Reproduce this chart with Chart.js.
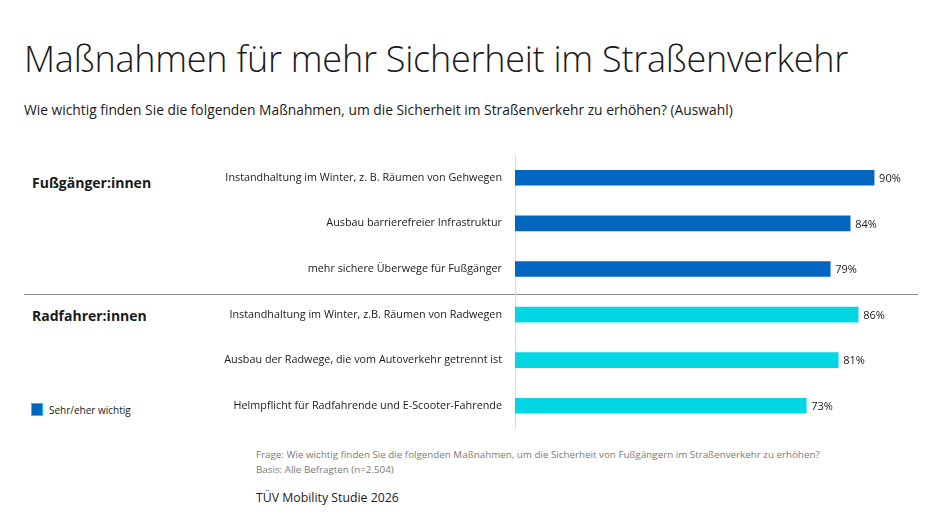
<!DOCTYPE html>
<html lang="de">
<head>
<meta charset="utf-8">
<script src="https://cdn.jsdelivr.net/npm/chart.js@4/dist/chart.umd.min.js"></script>
<style>
    body { margin: 0; background: #fff; font-family: "Open Sans", sans-serif; color: #1a1a1a; }
    #page { position: relative; width: 945px; height: 532px; overflow: hidden; }
    .txt { position: absolute; white-space: nowrap; }
    #title { left: 24px; top: 34px; font-size: 36px; font-weight: 300; letter-spacing: -0.25px; }
    #subtitle { left: 24px; top: 100px; font-size: 13.8px; }
    .group { left: 32px; font-size: 14px; font-weight: 700; }
    #sep { position: absolute; left: 24px; top: 294px; width: 894px; height: 1px; background: #8c8c8c; }
    #legend { left: 31px; top: 403px; font-size: 10px; }
    #legend span.box { display: inline-block; width: 10px; height: 11px; background: #0066bf; border: 1px solid #00d7e3; vertical-align: -2px; margin-right: 6px; }
    .foot { left: 256px; font-size: 9.8px; color: #7a7a7a; }
    #studie { left: 256px; top: 489px; font-size: 12.3px; }
    #wrap { position: absolute; left: 0; top: 140px; width: 945px; height: 300px; }
</style>
</head>
<body>
<div id="page">
    <div class="txt" id="title">Maßnahmen für mehr Sicherheit im Straßenverkehr</div>
    <div class="txt" id="subtitle">Wie wichtig finden Sie die folgenden Maßnahmen, um die Sicherheit im Straßenverkehr zu erhöhen? (Auswahl)</div>
    <div class="txt group" style="top: 173px;">Fußgänger:innen</div>
    <div class="txt group" style="top: 306px;">Radfahrer:innen</div>
    <div id="sep"></div>
    <div class="txt" id="legend"><span class="box"></span>Sehr/eher wichtig</div>
    <div class="txt foot" style="top: 448px;">Frage: Wie wichtig finden Sie die folgenden Maßnahmen, um die Sicherheit von Fußgängern im Straßenverkehr zu erhöhen?</div>
    <div class="txt foot" style="top: 463px;">Basis: Alle Befragten (n=2.504)</div>
    <div class="txt" id="studie">TÜV Mobility Studie 2026</div>
    <div id="wrap"><canvas id="myBarChart"></canvas></div>
</div>
<script>
// Daten
const categories = [
    "Instandhaltung im Winter, z. B. Räumen von Gehwegen",
    "Ausbau barrierefreier Infrastruktur",
    "mehr sichere Überwege für Fußgänger",
    "Instandhaltung im Winter, z.B. Räumen von Radwegen",
    "Ausbau der Radwege, die vom Autoverkehr getrennt ist",
    "Helmpflicht für Radfahrende und E-Scooter-Fahrende",
];
const values = [90, 84, 79, 86, 81, 73];
const groups = ["fuss", "fuss", "fuss", "rad", "rad", "rad"];
const groupColors = { fuss: "#0066bf", rad: "#00d7e3" };

// Prozentwerte rechts neben den Balken
const valueLabels = {
    id: "valueLabels",
    afterDatasetsDraw(chart) {
        const ctx = chart.ctx;
        ctx.save();
        ctx.font = "11px 'Open Sans', sans-serif";
        ctx.fillStyle = "#1a1a1a";
        ctx.textBaseline = "middle";
        chart.getDatasetMeta(0).data.forEach((bar, i) => {
            ctx.fillText(values[i] + "%", bar.x + 5, bar.y + 1);
        });
        ctx.restore();
    },
};

var ctx = document.getElementById("myBarChart").getContext("2d");
var myBarChart = new Chart(ctx, {
    type: "bar",
    data: {
        labels: categories,
        datasets: [
            {
                label: "Sehr/eher wichtig",
                data: values,
                backgroundColor: groups.map((g) => groupColors[g]),
                barThickness: 15,
            },
        ],
    },
    options: {
        indexAxis: "y",
        responsive: true,
        maintainAspectRatio: false,
        animation: false,
        layout: { padding: { top: 15, bottom: 6, right: 31, left: 0 } },
        plugins: {
            legend: { display: false },
            tooltip: { enabled: false },
        },
        scales: {
            x: { display: false, min: 0, max: 100 },
            y: {
                grid: { display: false },
                border: { display: true, color: "#dcdcdc", width: 1 },
                ticks: {
                    color: "#1a1a1a",
                    padding: 5,
                    font: { family: "'Open Sans', sans-serif", size: 10.8 },
                },
                afterFit(axis) {
                    axis.width = 515;
                },
            },
        },
    },
    plugins: [valueLabels],
});
</script>
</body>
</html>
